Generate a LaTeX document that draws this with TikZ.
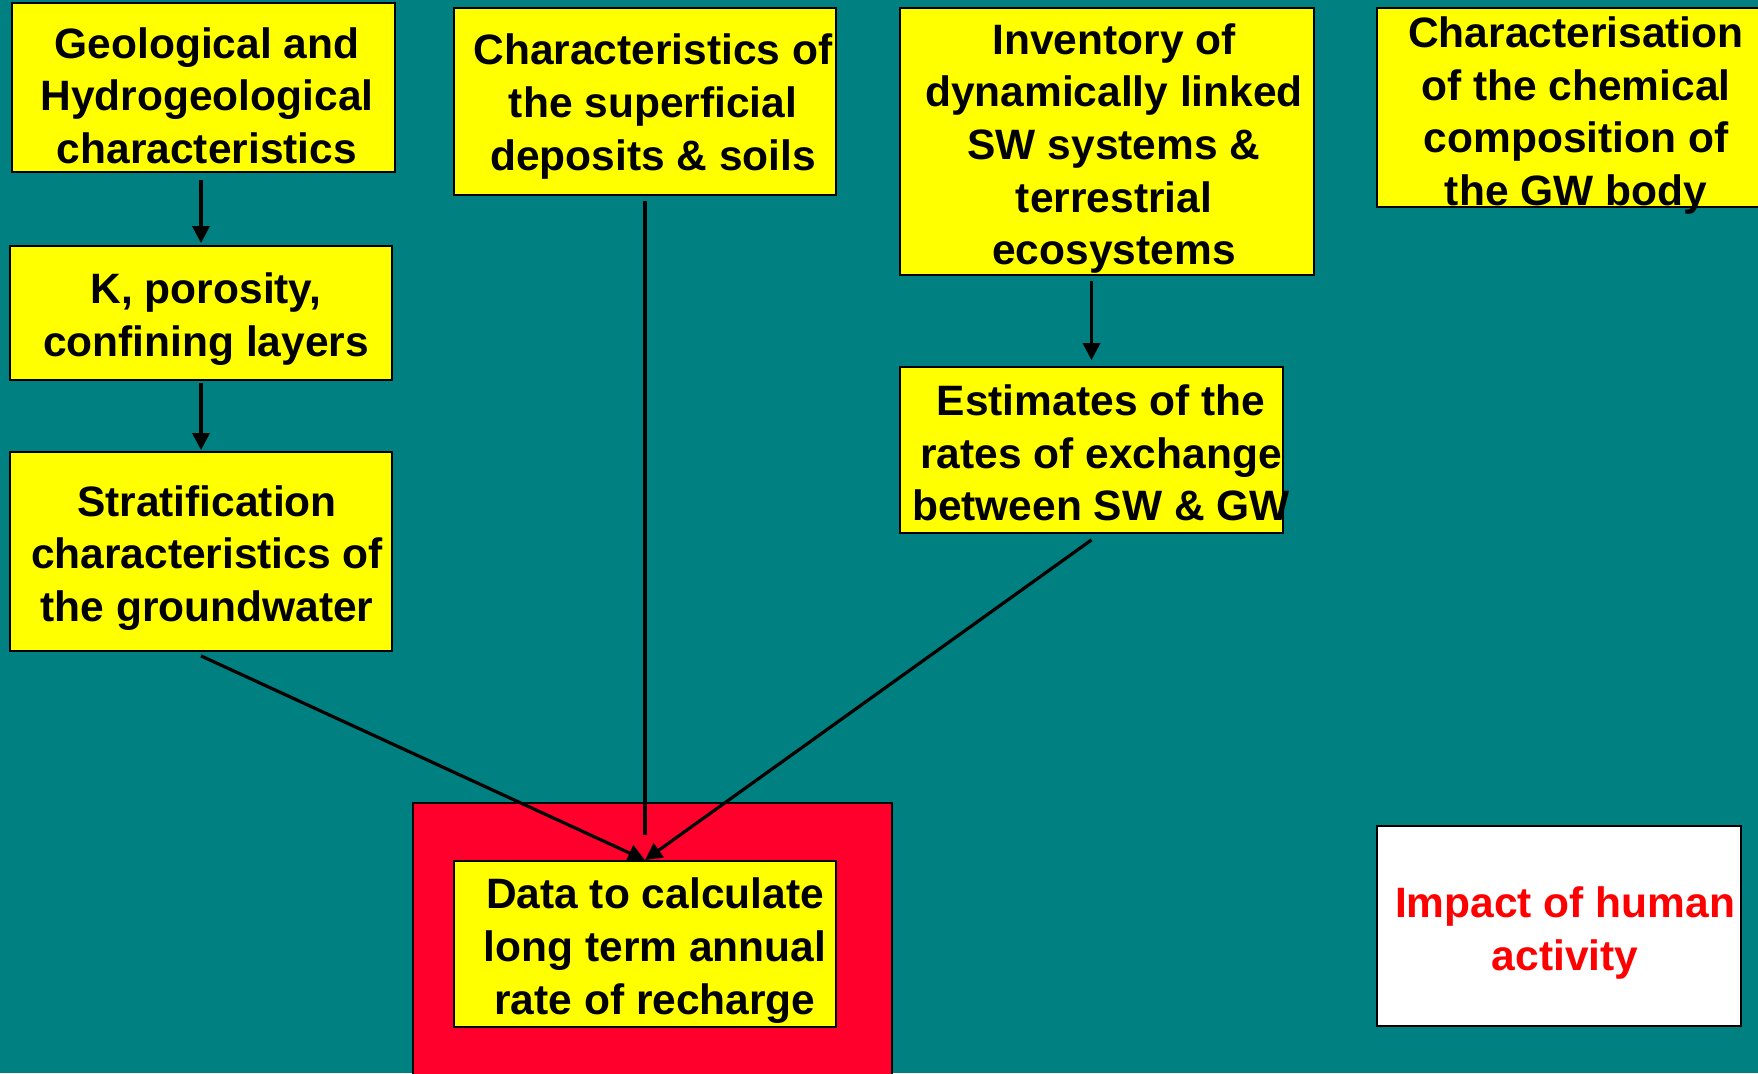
\documentclass[tikz,border=0pt]{standalone}
\usepackage{fontspec}
\setmainfont{Liberation Sans}
\usetikzlibrary{arrows.meta}
\definecolor{bgteal}{RGB}{0,128,128}
\definecolor{boxyellow}{RGB}{255,255,0}
\definecolor{boxred}{RGB}{255,0,45}
\definecolor{txtred}{RGB}{255,0,0}
\begin{document}
\begin{tikzpicture}[x=0.5pt,y=-0.5pt,
  ybox/.style={draw=black,line width=0.9pt,fill=boxyellow,inner sep=0pt},
  lbl/.style={align=center,inner sep=0pt,font=\fontsize{21.25}{26.3}\selectfont\bfseries},
  conn/.style={line width=1.6pt,draw=black},
  tip/.style={-{Triangle[length=8.5pt,width=8.5pt]}}]
\useasboundingbox (0,0) rectangle (1758,1073);
\clip (0,0) rectangle (1758,1073);
\fill[bgteal] (0,0) rectangle (1758,1073);

% boxes
\node[ybox,minimum width=191.5pt,minimum height=84.5pt] (g) at (203.5,87.5) {};
\node[ybox,minimum width=191pt,minimum height=67pt] (k) at (201,313) {};
\node[ybox,minimum width=191pt,minimum height=99.5pt] (s) at (201,551.5) {};
\node[ybox,minimum width=191pt,minimum height=93.5pt] (c) at (645,101.5) {};
\node[ybox,minimum width=207pt,minimum height=133.5pt] (i) at (1107,141.5) {};
\node[ybox,minimum width=191.5pt,minimum height=83pt] (e) at (1091.5,450) {};
\node[ybox,minimum width=199pt,minimum height=99.5pt] (ch) at (1576,107.5) {};
\node[draw=black,line width=0.9pt,fill=boxred,inner sep=0pt,minimum width=239.5pt,minimum height=141pt] (red) at (652.5,944) {};
\node[ybox,minimum width=191pt,minimum height=83pt] (d) at (645,944) {};
\node[draw=black,line width=1.4pt,fill=white,inner sep=0pt,minimum width=182pt,minimum height=100pt] (w) at (1559,926) {};

% texts
\node[lbl] (gt) at (207,95.5) {Geological and\\Hydrogeological\\characteristics};
\node[lbl] (kt) at (206,319) {K, porosity,\\confining layers};
\node[lbl] (st) at (207,558) {Stratification\\characteristics of\\the groundwater};
\node[lbl] (ct) at (653,106.5) {Characteristics of\\the superficial\\deposits \& soils};
\node[lbl] (it) at (1114,148.5) {Inventory of\\dynamically linked\\SW systems \&\\terrestrial\\ecosystems};
\node[lbl] (et) at (1101,453) {Estimates of the\\rates of exchange\\between SW \& GW};
\node[lbl] (cht) at (1576,115.5) {Characterisation\\of the chemical\\composition of\\the GW body};
\node[lbl] (dt) at (655,950.5) {Data to calculate\\long term annual\\rate of recharge};
\node[lbl,text=txtred] (wt) at (1565,933) {Impact of human\\activity};

% connector start points just below the boxes
\coordinate (ss) at ([yshift=-2pt]s.south);
\coordinate (es) at ([yshift=-3pt]e.south);

% connectors
\draw[conn,tip,shorten <=3.5pt,shorten >=1pt] (k.north |- g.south) -- (k.north);
\draw[conn,tip,shorten <=1pt,shorten >=0.5pt] (s.north |- k.south) -- (s.north);
\draw[conn,tip,shorten <=2.5pt,shorten >=3pt] (e.north |- i.south) -- (e.north);
\draw[conn,shorten <=2.5pt,shorten >=12.5pt] (c.south) -- (d.north);
\draw[conn,tip] (ss) -- (d.north);
\draw[conn,tip] (es) -- (d.north);
\end{tikzpicture}
\end{document}
